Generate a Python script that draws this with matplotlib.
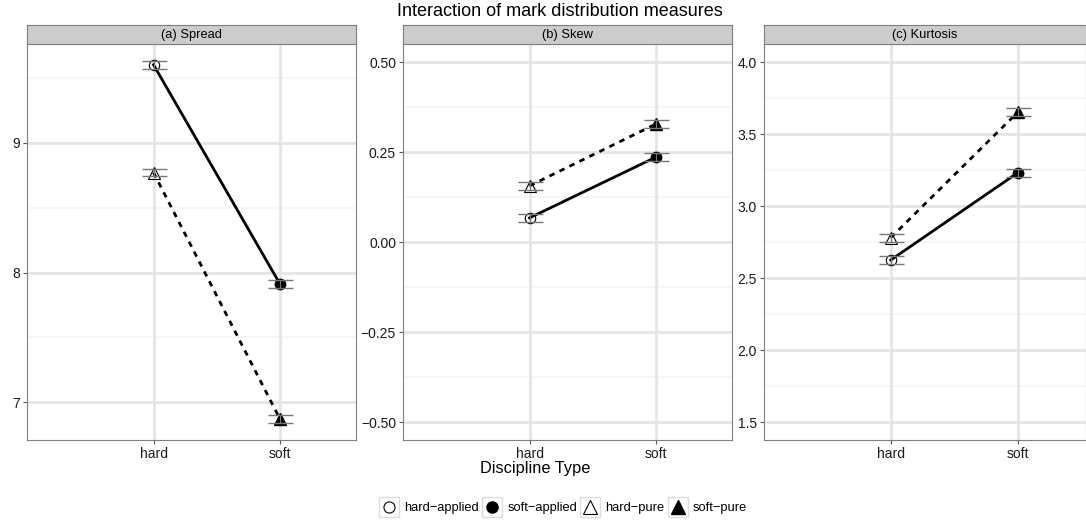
import numpy as np
import matplotlib
matplotlib.use("Agg")
import matplotlib.pyplot as plt
from matplotlib.lines import Line2D
from matplotlib.patches import Rectangle
from matplotlib.ticker import FixedLocator

plt.rcParams['font.family'] = ['Liberation Sans', 'DejaVu Sans']

categories = ['hard', 'soft']
panel_titles = ['(a) Spread', '(b) Skew', '(c) Kurtosis']

# means per discipline type (hard, soft)
spread_applied = [9.60, 7.91]
spread_pure = [8.77, 6.87]
skew_applied = [0.067, 0.236]
skew_pure = [0.156, 0.328]
kurt_applied = [2.625, 3.23]
kurt_pure = [2.78, 3.65]

# half-width of the error bars
spread_err = [0.03, 0.03]
skew_err = [0.011, 0.011]
kurt_err = [0.028, 0.028]

y_ticks = [[7, 8, 9], [-0.50, -0.25, 0.00, 0.25, 0.50], [1.5, 2.0, 2.5, 3.0, 3.5, 4.0]]
y_tick_labels = [['7', '8', '9'],
                 ['\u22120.50', '\u22120.25', '0.00', '0.25', '0.50'],
                 ['1.5', '2.0', '2.5', '3.0', '3.5', '4.0']]
y_minor = [[6.5, 7.5, 8.5, 9.5], [-0.375, -0.125, 0.125, 0.375], [1.75, 2.25, 2.75, 3.25, 3.75]]
y_lims = [(6.71, 9.76), (-0.55, 0.55), (1.375, 4.125)]

legend_labels = ['hard\u2212applied', 'soft\u2212applied', 'hard\u2212pure', 'soft\u2212pure']

W, H = 1086, 521
fig = plt.figure(figsize=(W / 100, H / 100), dpi=100)

# pixel boxes of each panel: left, right
panel_x = [(27, 356), (403, 732), (764, 1086)]
top, bottom, strip_top = 44, 440, 25

data = [(spread_applied, spread_pure, spread_err),
        (skew_applied, skew_pure, skew_err),
        (kurt_applied, kurt_pure, kurt_err)]

x = np.array([1, 2])
border = '#7f7f7f'

for i, (l, r) in enumerate(panel_x):
    ax = fig.add_axes([l / W, (H - bottom) / H, (r - l) / W, (bottom - top) / H])
    sax = fig.add_axes([l / W, (H - top) / H, (r - l) / W, (top - strip_top) / H])
    sax.set_facecolor('#cccccc')
    sax.set_xticks([])
    sax.set_yticks([])
    for s in sax.spines.values():
        s.set_color(border)
    sax.text(0.5, 0.45, panel_titles[i], ha='center', va='center', fontsize=9.3,
             transform=sax.transAxes)

    applied, pure, err = data[i]
    xmax = 2.6 if i < 2 else 2.54
    ax.set_xlim(0, xmax)
    ax.set_ylim(*y_lims[i])

    # grid
    for yv in y_minor[i]:
        ax.axhline(yv, color='#f5f5f5', lw=1.2, zorder=0)
    for yv in y_ticks[i]:
        ax.axhline(yv, color='#e5e5e5', lw=2, zorder=0)
    for xv in x:
        ax.axvline(xv, color='#e5e5e5', lw=2, zorder=0)

    ax.plot(x, applied, color='black', lw=2, ls='-', zorder=2)
    ax.plot(x, pure, color='black', lw=2, ls=(0, (2, 2)), zorder=2)

    ax.plot(x[0], applied[0], 'o', mfc='none', mec='black', ms=7.5, mew=0.8, zorder=3)
    ax.plot(x[1], applied[1], 'o', mfc='black', mec='black', ms=7.5, zorder=3)
    ax.plot(x[0], pure[0], '^', mfc='none', mec='black', ms=8.5, mew=0.8, zorder=3)
    ax.plot(x[1], pure[1], '^', mfc='black', mec='black', ms=8.5, zorder=3)

    for vals in (applied, pure):
        ax.errorbar(x, vals, yerr=err, fmt='none', ecolor='#777777', elinewidth=0.8,
                    capsize=9, capthick=1.0, zorder=4)

    ax.set_xticks(x)
    ax.set_xticklabels(categories)
    ax.yaxis.set_major_locator(FixedLocator(y_ticks[i]))
    ax.set_yticklabels(y_tick_labels[i])
    ax.tick_params(colors='#555555', labelsize=10, length=3, width=0.8,
                   labelcolor='#1a1a1a', pad=2)
    for s in ax.spines.values():
        s.set_color(border)

fig.text(560 / W, 1 - 12 / H, 'Interaction of mark distribution measures',
         ha='center', va='center', fontsize=13)
fig.text(535 / W, 1 - 468 / H, 'Discipline Type', ha='center', va='center', fontsize=11.8)

handles = [
    Line2D([], [], ls='none', marker='o', mfc='none', mec='black', ms=8, mew=0.8),
    Line2D([], [], ls='none', marker='o', mfc='black', mec='black', ms=8),
    Line2D([], [], ls='none', marker='^', mfc='none', mec='black', ms=10, mew=0.8),
    Line2D([], [], ls='none', marker='^', mfc='black', mec='black', ms=10),
]
leg = fig.legend(handles, legend_labels, loc='center', bbox_to_anchor=(564 / W, 1 - 508 / H),
                 ncol=4, frameon=False, fontsize=9.3, handlelength=1.25, handletextpad=0.55,
                 columnspacing=0.4, borderpad=0)

# grey key boxes around each legend marker
fig.canvas.draw()
renderer = fig.canvas.get_renderer()
for h in leg.legend_handles:
    bb = h.get_window_extent(renderer)
    cx = (bb.x0 + bb.x1) / 2
    cy = (bb.y0 + bb.y1) / 2
    side = 20
    fig.patches.append(Rectangle(((cx - side / 2) / W, (cy - side / 2) / H), side / W, side / H,
                                 transform=fig.transFigure, fill=False, ec='#dddddd', lw=1))

fig.savefig('out.png', dpi=100)
